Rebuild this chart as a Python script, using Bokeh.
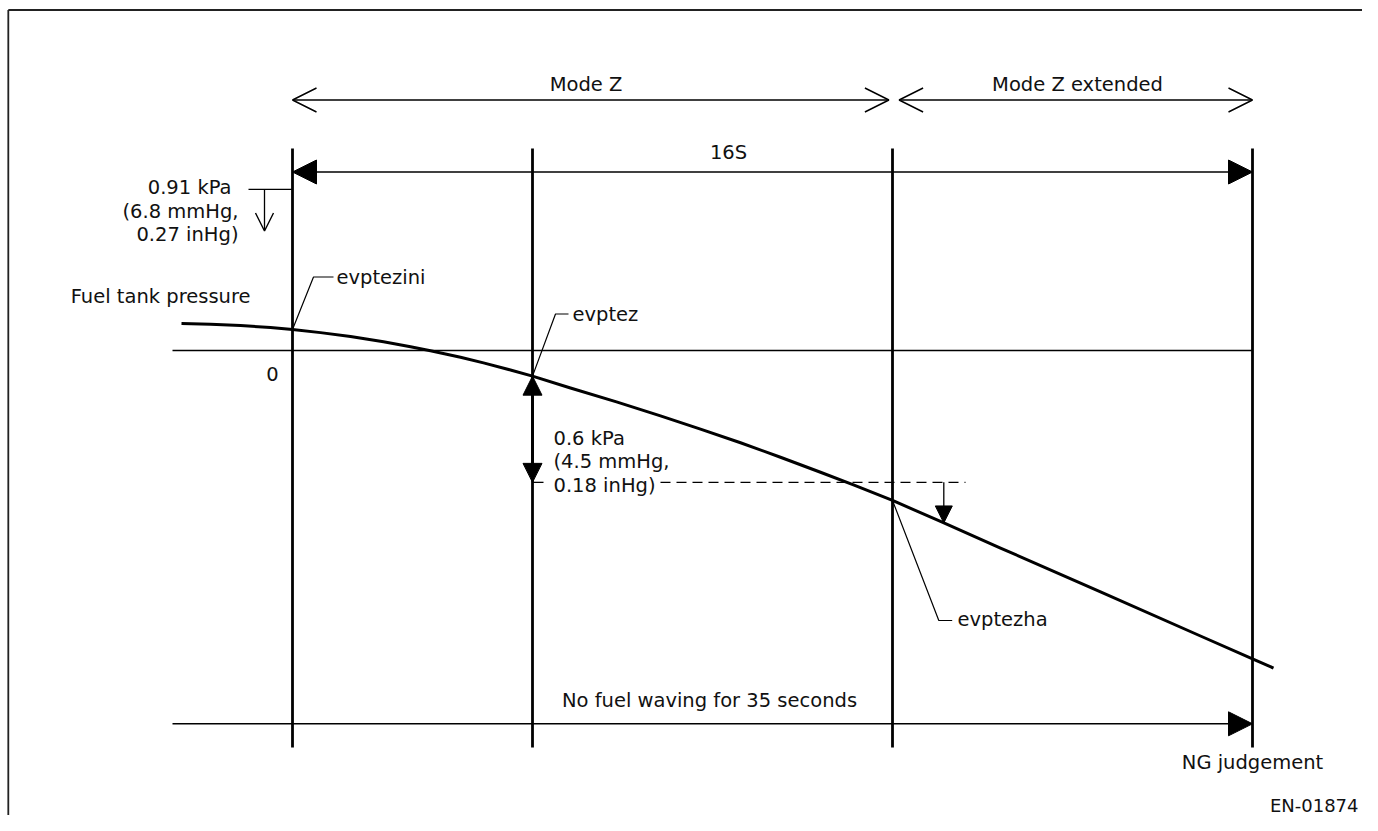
from bokeh.plotting import figure
from bokeh.models import Range1d, Arrow, OpenHead, NormalHead
from bokeh.core.properties import value
from bokeh.embed import file_html
from bokeh.resources import INLINE
import numpy as np

# ---------------- data ----------------
# time in seconds (0 = start of Mode Z), fuel tank pressure in kPa (0 = reference)
curve_t = [-1.850, -1.367, -0.867, -0.367, 0.0, 0.467, 0.967, 1.517, 1.967, 2.300, 2.800,
           3.183, 3.633, 4.000, 4.633, 5.400, 6.133, 6.800, 7.467, 8.133, 8.800, 9.350,
           10.000, 10.800, 11.800, 13.467, 15.133, 16.000, 16.350]
curve_p = [0.153, 0.149, 0.141, 0.130, 0.119, 0.101, 0.079, 0.049, 0.021, -0.001, -0.038,
           -0.070, -0.110, -0.145, -0.212, -0.290, -0.369, -0.444, -0.521, -0.603, -0.688, -0.759,
           -0.847, -0.966, -1.116, -1.364, -1.613, -1.742, -1.794]
event_t = [0, 4, 10, 16]                       # evptezini, evptez, evptezha, NG judgement
event_labels = ["evptezini", "evptez", "evptezha"]
mode_labels = ["Mode Z", "Mode Z extended"]
window_label = "16S"
start_threshold_kpa = 0.91
start_threshold_text = ["0.91 kPa", "(6.8 mmHg,", "0.27 inHg)"]
drop_kpa = 0.6
drop_text = ["0.6 kPa", "(4.5 mmHg,", "0.18 inHg)"]
waving_text = "No fuel waving for 35 seconds"
waving_start_t = -2.0
ng_text = "NG judgement"
y_label = "Fuel tank pressure"
zero_label = "0"
figure_code = "EN-01874"

# ---------------- layout ----------------
W, H = 1362, 815
PX_S, PX_KPA = 60.0, 177.0
OX, OY = 292.0, 350.0          # pixel of (t=0, p=0) inside the figure


def tx(px):
    return (px - OX) / PX_S


def py(px):
    return (OY - px) / PX_KPA


p = figure(width=W, height=H, x_range=Range1d(tx(0), tx(W)), y_range=Range1d(py(H), py(0)),
           output_backend="svg", toolbar_location=None, min_border=0,
           x_axis_type=None, y_axis_type=None, outline_line_color=None,
           background_fill_color="white", border_fill_color="white")

INK = "#000000"
FONT = value("DejaVu Sans")
FS = "19.5px"


def txt(x, y, s, align="center", size=FS):
    p.text(x=[x], y=[y], text=[s], text_font=FONT, text_font_size=size,
           text_align=align, text_baseline="middle", text_color="#111111")


def arrow(x0, y0, x1, y1, end=None, start=None, lw=1.5):
    p.add_layout(Arrow(x_start=x0, y_start=y0, x_end=x1, y_end=y1, start=start, end=end,
                       line_color=INK, line_width=lw))


def open_head(size):
    return OpenHead(size=size, line_color=INK, line_width=1.4)


def solid_head(size):
    return NormalHead(size=size, line_color=INK, line_width=1, fill_color=INK)


# frame border (top and left edges)
xr = p.x_range.end
yb = p.y_range.start
top_border = py(9.5)
left_border = tx(7.8)
p.line([left_border, xr], [top_border, top_border], line_color="#222222", line_width=1.8)
p.line([left_border, left_border], [yb, top_border], line_color="#222222", line_width=1.8)

# zero reference line
p.line([waving_start_t, event_t[-1]], [0, 0], line_color=INK, line_width=1.5)

# event vertical lines
v_top, v_bot = py(148), py(747)
p.segment(x0=event_t, y0=[v_bot] * 4, x1=event_t, y1=[v_top] * 4, line_color=INK, line_width=2.8)

# pressure curve
p.line(curve_t, curve_p, line_color=INK, line_width=3, line_join="round", line_cap="butt")

# Mode Z arrows
mode_y = py(99.5)
arrow(event_t[0], mode_y, event_t[2] - 0.06, mode_y, start=open_head(24), end=open_head(24))
arrow(event_t[2] + 0.11, mode_y, event_t[3], mode_y, start=open_head(24), end=open_head(24))
txt(tx(585.5), py(84), mode_labels[0])
txt(tx(1077), py(84), mode_labels[1])

# 16S arrow
win_y = py(171.5)
arrow(event_t[0], win_y, event_t[3], win_y, start=solid_head(24), end=solid_head(24))
txt(tx(728), py(152), window_label)

# 0.91 kPa start threshold
p.line([tx(248), event_t[0]], [start_threshold_kpa, start_threshold_kpa], line_color=INK, line_width=1.3)
arrow(tx(264), start_threshold_kpa, tx(264), start_threshold_kpa - 0.235, end=open_head(18), lw=1.3)
txt(tx(231), py(187), start_threshold_text[0], align="right")
txt(tx(238), py(210.5), start_threshold_text[1], align="right")
txt(tx(238), py(234), start_threshold_text[2], align="right")

# axis labels
txt(tx(250), py(296), y_label, align="right")
txt(tx(272), py(373.5), zero_label)

# evptez 0.6 kPa drop
ev_p = float(np.interp(event_t[1], curve_t, curve_p))
low_p = ev_p - drop_kpa
arrow(event_t[1], ev_p, event_t[1], low_p, start=solid_head(19), end=solid_head(19), lw=2.8)
p.line([event_t[1], tx(543)], [low_p, low_p], line_color=INK, line_width=1.3)
p.line([tx(660), tx(965)], [low_p, low_p], line_color=INK, line_width=1.3, line_dash="10 6")
for i, s in enumerate(drop_text):
    txt(tx(553), py(437.5 + 23.5 * i), s, align="left")

# evptezha arrow down to curve
ax = tx(943.3)
arrow(ax, low_p, ax, float(np.interp(ax, curve_t, curve_p)), end=solid_head(17), lw=1.3)

# leaders and event labels
ini_p = float(np.interp(event_t[0], curve_t, curve_p))
p.line([event_t[0], tx(313), tx(333)], [ini_p, py(276.5), py(276.5)], line_color=INK, line_width=1.2)
txt(tx(336), py(276.5), event_labels[0], align="left")

p.line([event_t[1], tx(555), tx(568)], [ev_p, py(313.5), py(313.5)], line_color=INK, line_width=1.2)
txt(tx(572), py(313.5), event_labels[1], align="left")

ha_p = float(np.interp(event_t[2], curve_t, curve_p))
p.line([event_t[2], tx(938.3), tx(951.7)], [ha_p, py(620), py(620)], line_color=INK, line_width=1.2)
txt(tx(957), py(619), event_labels[2], align="left")

# no fuel waving
wave_y = py(723.3)
arrow(waving_start_t, wave_y, event_t[3], wave_y, end=solid_head(24))
txt(tx(709), py(700), waving_text)
txt(event_t[3], py(762), ng_text)

txt(tx(1358), py(805), figure_code, align="right", size="18px")

open("out.html", "w").write(file_html(p, INLINE))
